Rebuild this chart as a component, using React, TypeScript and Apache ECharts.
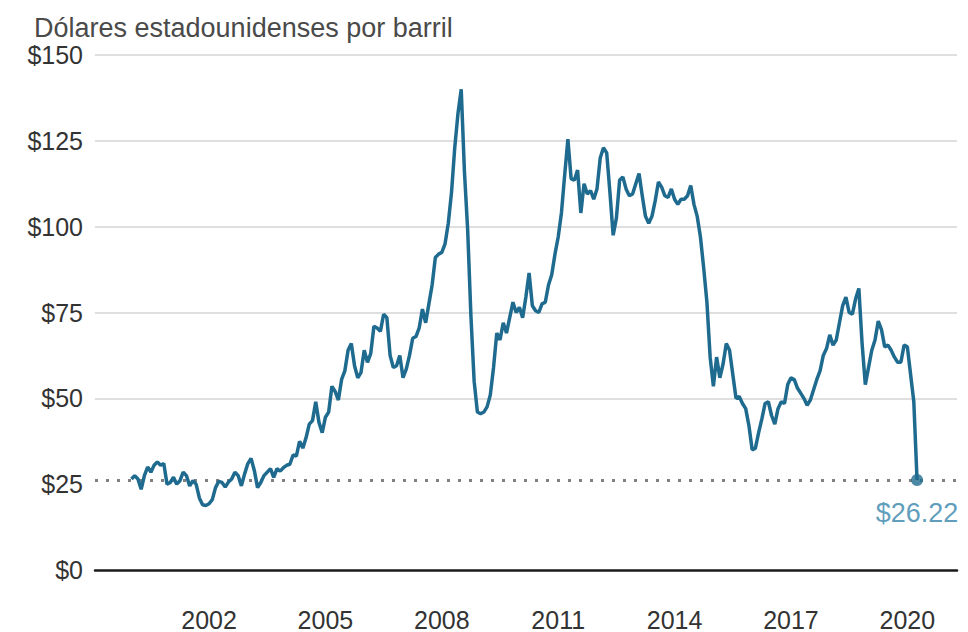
import React, { useEffect, useRef } from "react";
import * as echarts from "echarts";

const START_YEAR = 2000;
// Monthly prices (USD per barrel)
const p2000 = [26.5, 27.5, 26.5, 23.5, 27.5, 30, 28.5, 30.5, 31.5, 30.5, 31, 25];
const p2001 = [25.5, 27, 25, 26, 28.5, 27.5, 24.5, 26, 25, 21, 19, 18.8];
const p2002 = [19.3, 20.5, 24, 25.8, 25.5, 24.2, 25.6, 26.5, 28.5, 27.5, 24.5, 28];
const p2003 = [31, 32.5, 29, 24, 25.5, 27.5, 28.5, 29.5, 27, 29.5, 28.8, 29.8];
const p2004 = [30.5, 30.8, 33.5, 33.2, 37.5, 35.5, 38.5, 42.5, 43.5, 49, 43, 40];
const p2005 = [44.5, 46, 53.5, 52, 49.5, 55.5, 58, 64, 66, 59.5, 56, 57.5];
const p2006 = [64, 60.5, 63, 71, 70.5, 69.5, 74.5, 73.5, 62.5, 59, 59.5, 62.5];
const p2007 = [56, 58.5, 62.5, 67.5, 68, 70.5, 76, 72, 77.5, 83, 91, 92];
const p2008 = [92.5, 95, 101, 110, 123, 133, 140, 116, 99, 74, 55, 46];
const p2009 = [45.5, 46, 47.5, 51, 59, 69, 67, 72, 69, 73.5, 78, 75];
const p2010 = [76.5, 73.5, 79.5, 86.5, 77, 75.5, 75, 77.5, 78, 83, 86, 92];
const p2011 = [97, 104, 115, 125.5, 114, 113.5, 116.5, 104, 112.5, 109.5, 110.5, 108];
const p2012 = [111, 120, 123, 121.5, 110, 97.5, 102.5, 113.5, 114.5, 111, 109, 109.5];
const p2013 = [112.5, 115.5, 109, 103, 101, 103, 107.5, 113, 111.5, 109, 108.5, 111];
const p2014 = [108, 106.5, 108, 108, 109, 112, 106.5, 103, 97, 88, 78, 62];
const p2015 = [53.5, 62, 56, 60, 66, 64, 57, 50, 50.5, 48.5, 47, 42];
const p2016 = [35, 35.5, 40, 44, 48.5, 49, 45, 42.5, 47, 49, 48.5, 54];
const p2017 = [56, 55.5, 53, 51.5, 50, 48, 49.5, 52.5, 55.5, 58, 62.5, 64.5];
const p2018 = [68.5, 65.5, 67, 72, 77, 79.5, 75, 74.5, 79, 82, 66, 54];
const p2019 = [59, 64, 67, 72.5, 70, 65, 65.5, 64, 62, 60.5, 60.5, 65.5];
const p2020 = [65, 57, 49, 26.22];

const yearlyPrices = [
  p2000, p2001, p2002, p2003, p2004, p2005, p2006, p2007, p2008, p2009, p2010,
  p2011, p2012, p2013, p2014, p2015, p2016, p2017, p2018, p2019, p2020,
];

const xTickYears = [2002, 2005, 2008, 2011, 2014, 2017, 2020];
const yMin = 0;
const yMax = 150;
const yStep = 25;
const lastValue = 26.22;
const lastLabel = "$26.22";
const unitTitle = "Dólares estadounidenses por barril";

const FONT = "'Liberation Sans', Arial, Helvetica, sans-serif";
const LINE_COLOR = "#1f6b8f";

export default function App() {
  const ref = useRef<HTMLDivElement>(null);

  useEffect(() => {
    if (!ref.current) return;
    const chart = echarts.init(ref.current, null, { renderer: "svg" });
    const points = yearlyPrices
      .flat()
      .map((v, i) => [START_YEAR + i / 12, v]);
    const last = points[points.length - 1];

    chart.setOption({
      animation: false,
      backgroundColor: "#ffffff",
      title: {
        text: unitTitle,
        left: 29,
        top: 9,
        textStyle: {
          fontFamily: FONT,
          fontSize: 27,
          fontWeight: "normal",
          color: "#4a4a4a",
        },
      },
      grid: { left: 95, right: 11, top: 55, bottom: 60 },
      xAxis: {
        type: "value",
        min: 1999.06,
        max: 2021.28,
        axisLine: {
          show: true,
          onZero: false,
          lineStyle: { color: "#1a1a1a", width: 2.5 },
        },
        axisTick: { show: false },
        splitLine: { show: false },
        axisLabel: {
          customValues: xTickYears,
          formatter: (v: number) => String(Math.round(v)),
          margin: 37,
          fontSize: 25,
          color: "#333333",
          fontFamily: FONT,
        },
      },
      yAxis: {
        type: "value",
        min: yMin,
        max: yMax,
        interval: yStep,
        axisLine: { show: false },
        axisTick: { show: false },
        splitLine: {
          show: true,
          lineStyle: {
            color: [
              "transparent",
              "transparent",
              "#d4d4d4",
              "#d4d4d4",
              "#d4d4d4",
              "#d4d4d4",
              "#d4d4d4",
            ],
            width: 1.5,
          },
        },
        axisLabel: {
          formatter: (v: number) => "$" + v,
          margin: 12,
          fontSize: 25,
          color: "#333333",
          fontFamily: FONT,
        },
      },
      series: [
        {
          type: "line",
          data: points,
          showSymbol: false,
          lineStyle: { color: LINE_COLOR, width: 3.5 },
          z: 3,
          markLine: {
            silent: true,
            symbol: "none",
            label: { show: false },
            lineStyle: { color: "#808080", type: [3, 8], width: 3 },
            data: [{ yAxis: lastValue }],
            z: 2,
          },
        },
        {
          type: "scatter",
          data: [last],
          symbol: "circle",
          symbolSize: 12,
          itemStyle: { color: LINE_COLOR },
          z: 4,
          label: {
            show: true,
            position: "bottom",
            distance: 14,
            formatter: lastLabel,
            fontSize: 27,
            color: "#3584aa",
            fontFamily: FONT,
          },
        },
      ],
    });

    return () => chart.dispose();
  }, []);

  return (
    <div
      ref={ref}
      style={{
        position: "fixed",
        left: 0,
        top: 0,
        width: 968,
        height: 632,
        background: "#ffffff",
      }}
    />
  );
}
